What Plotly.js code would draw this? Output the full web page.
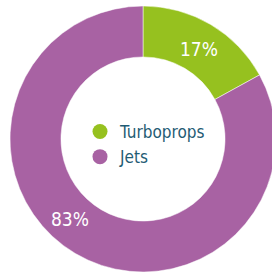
<!DOCTYPE html>
<html>
<head>
<meta charset="utf-8">
<script src="https://cdn.plot.ly/plotly-3.0.1.min.js"></script>
<style>
html,body{margin:0;padding:0;overflow:hidden;background:#fff;width:272px;height:274px;}
#chart{width:300px;height:300px;}
</style>
</head>
<body>
<div id="chart"></div>
<script>
const categories = ["Turboprops", "Jets"];
const shares = [17, 83];
const colors = ["#96C11F", "#A862A3"];

const W = 300, H = 300;
const FONT = "DejaVu Sans Condensed, Liberation Sans Narrow, Roboto, sans-serif";

const traces = [{
  type: "pie",
  labels: categories,
  values: shares,
  marker: {colors: colors, line: {color: "#ffffff", width: 0.5}},
  hole: 0.617,
  sort: false,
  direction: "clockwise",
  rotation: 0,
  textinfo: "none",
  hoverinfo: "none",
  showlegend: false,
  domain: {x: [10 / W, 276 / W], y: [1 - 272 / H, 1 - 6 / H]}
}];
categories.forEach((c, i) => {
  traces.push({
    type: "scatter",
    mode: "markers",
    x: [null], y: [null],
    name: c,
    marker: {color: colors[i], size: 15, symbol: "circle"},
    showlegend: true,
    hoverinfo: "none"
  });
});

const labelPos = [[198.5, 49], [69.5, 219]];
const annotations = shares.map((v, i) => ({
  text: v + "%",
  x: labelPos[i][0] / W,
  y: 1 - labelPos[i][1] / H,
  xref: "paper", yref: "paper",
  showarrow: false,
  xanchor: "center", yanchor: "middle",
  font: {family: FONT, size: 19, color: "#ffffff"}
}));

const layout = {
  width: W, height: H,
  margin: {l: 0, r: 0, t: 0, b: 0},
  paper_bgcolor: "#ffffff",
  plot_bgcolor: "rgba(0,0,0,0)",
  xaxis: {visible: false},
  yaxis: {visible: false},
  showlegend: true,
  legend: {
    x: 80 / W, y: 1 - 114 / H,
    xanchor: "left", yanchor: "top",
    bgcolor: "rgba(0,0,0,0)",
    font: {family: FONT, size: 17, color: "#1F5C74"},
    tracegroupgap: 0
  },
  annotations: annotations
};

Plotly.newPlot("chart", traces, layout, {staticPlot: true, displayModeBar: false});
</script>
</body>
</html>
